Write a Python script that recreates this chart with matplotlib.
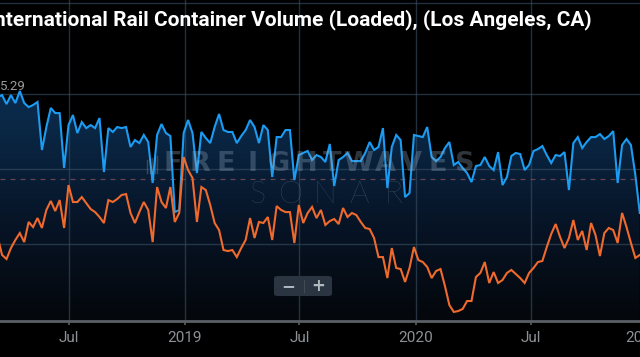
import numpy as np
import pandas as pd
import matplotlib
matplotlib.use("Agg")
import matplotlib.pyplot as plt
import matplotlib.dates as mdates
from matplotlib.colors import LinearSegmentedColormap
from matplotlib.patches import FancyBboxPatch

# ---------------- data ----------------
title = "International Rail Container Volume (Loaded), (Los Angeles, CA)"
end_date = "2020-12-20"

blue_values = [
    15.07, 14.80, 14.93, 14.33, 14.93, 14.40, 15.20, 14.40, 14.13, 14.27,
    14.47, 11.27, 12.80, 14.07, 13.73, 13.73, 10.07, 12.93, 13.60, 12.40,
    13.13, 12.73, 12.93, 12.73, 13.40, 9.80, 12.73, 12.47, 12.80, 12.73,
    12.80, 11.47, 11.93, 11.73, 12.27, 11.80, 9.07, 12.27, 13.00, 12.40,
    12.20, 7.13, 7.27, 12.40, 13.27, 12.40, 9.73, 12.47, 12.07, 11.73,
    12.80, 13.67, 12.60, 12.47, 12.47, 11.73, 12.20, 12.60, 13.27, 12.80,
    11.73, 12.93, 12.60, 9.47, 12.13, 12.13, 12.60, 12.60, 9.27, 10.93,
    11.07, 11.20, 10.60, 10.93,
    10.80, 10.47, 11.67, 8.87, 10.60, 10.80, 11.07, 10.53, 10.53, 10.53,
    11.07, 11.80, 11.27, 11.47, 12.73, 8.73, 11.47, 12.27, 11.93, 8.13,
    8.40, 12.27, 12.20, 12.13, 12.80, 10.80, 10.53, 10.80, 11.40, 11.80,
    10.27, 10.47, 10.07, 9.73, 9.13, 10.20, 10.27, 10.80, 10.20, 9.93,
    11.13, 8.93, 9.47, 10.87, 11.07, 11.00, 9.93, 10.27, 11.20, 11.33,
    11.53, 10.93, 10.40, 10.93, 10.87, 11.13, 8.60, 11.73, 12.13, 11.40,
    11.80, 12.13, 12.13, 12.33, 12.00, 12.20, 12.53, 9.07, 11.60, 12.00,
    11.60, 9.60, 7.07,
]

orange_values = [
    5.80, 5.47, 4.27, 4.00, 4.73, 5.27, 5.73, 5.13, 6.47, 6.13,
    6.73, 6.07, 7.27, 7.87, 7.20, 7.93, 6.07, 8.93, 7.80, 7.80,
    8.13, 7.73, 7.33, 7.13, 6.80, 6.40, 7.93, 7.80, 8.00, 8.27,
    8.33, 7.07, 6.40, 7.13, 7.80, 7.27, 5.13, 8.80, 7.80, 7.40,
    8.80, 6.47, 7.07, 10.80, 9.93, 9.40, 6.47, 8.80, 8.60, 7.60,
    6.40, 5.93, 4.60, 4.53, 4.60, 4.13, 4.73, 5.27, 6.73, 5.40,
    6.47, 6.40, 6.80, 5.27, 7.53, 7.27, 7.13, 7.13, 5.07, 7.60,
    6.40, 7.07, 7.47, 6.73,
    7.27, 6.27, 6.53, 6.67, 6.33, 7.40, 6.80, 7.07, 6.93, 6.47,
    6.07, 6.00, 5.40, 4.13, 4.13, 2.73, 4.73, 3.40, 3.33, 2.47,
    3.40, 4.80, 3.93, 3.80, 3.47, 2.73, 3.20, 3.33, 2.20, 0.93,
    0.47, 0.53, 0.67, 1.20, 1.20, 2.80, 3.07, 3.80, 2.40, 3.13,
    2.40, 2.60, 3.07, 3.27, 3.00, 2.73, 2.40, 3.07, 3.40, 3.80,
    3.87, 4.80, 5.67, 6.33, 5.47, 4.73, 5.40, 6.60, 5.27, 5.87,
    4.60, 6.40, 5.60, 4.20, 5.73, 6.07, 5.93, 5.07, 7.07, 6.13,
    5.07, 4.07, 4.27,
]

grid_values = [5, 10, 15, 21.07]
reference_value = 9.33
tick_dates = ["2018-07-01", "2019-01-01", "2019-07-01", "2020-01-01", "2020-07-01"]
tick_labels = ["Jul", "2019", "Jul", "2020", "Jul"]
extra_tick = ("2021-01-01", "2021")
last_label = "5.29"

# ---------------- style ----------------
W, H, DPI = 640, 357, 100
BLUE = "#1b9cf2"
ORANGE = "#ef6a2c"
GRID = "#3b4f65"
AXIS_GRAY = "#5a6066"
TICK_TXT = "#8d9196"
WM = "#9ab0c8"

fig = plt.figure(figsize=(W / DPI, H / DPI), dpi=DPI, facecolor="black")
ax = fig.add_axes([0, (H - 321) / H, 1, 321 / H])
ax.set_facecolor("black")

dates_b = pd.date_range(end=end_date, periods=len(blue_values), freq="7D")
dates_o = pd.date_range(end=end_date, periods=len(orange_values), freq="7D")

ymin, ymax = -0.133, 21.27
xmin = pd.Timestamp("2018-03-14 17:00")
xmax = pd.Timestamp("2020-12-20 08:00")

# gradient area under blue series
poly = ax.fill_between(dates_b, blue_values, ymin, facecolor="none", edgecolor="none")
cmap = LinearSegmentedColormap.from_list(
    "g", [(0, "#04070b"), (0.3, "#071426"), (0.6, "#0a2745"), (1.0, "#0e3563")])
grad = np.linspace(1, 0, 256).reshape(-1, 1)
x0n, x1n = mdates.date2num(xmin) - 20, mdates.date2num(xmax) + 20
im = ax.imshow(grad, extent=[x0n, x1n, ymin, ymax], aspect="auto", cmap=cmap,
               zorder=1, interpolation="bilinear")
im.set_clip_path(poly.get_paths()[0], transform=ax.transData)

# grid
for g in grid_values:
    ax.axhline(g, color=GRID, lw=1.0, alpha=0.6, zorder=2)
for d in tick_dates:
    ax.axvline(pd.Timestamp(d), color=GRID, lw=1.0, alpha=0.6, zorder=2)
ax.axhline(reference_value, color="#7d4d55", lw=0.9, ls=(0, (4, 4)), alpha=0.8, zorder=2)

# watermark
for i, ch in enumerate("FREIGHTWAVES"):
    fig.text((173 + i * 26.5) / W, 1 - 164 / H, ch, color=WM, alpha=0.3,
             fontsize=19.5, fontweight="bold", family="DejaVu Sans",
             ha="center", va="center")
for k in range(5):
    xk = (147 + k * 2.6) / W
    fig.add_artist(plt.Line2D([xk, xk], [1 - 173 / H, 1 - (160 - k * 1.0) / H],
                              transform=fig.transFigure, color=WM, alpha=0.3, lw=1.0))
for i, ch in enumerate("SONAR"):
    fig.text((257 + i * 34) / W, 1 - 195 / H, ch, color="#8c9aa8", alpha=0.5,
             fontsize=22, fontweight="light", family="Lato",
             ha="center", va="center")

# series
ax.plot(dates_b, blue_values, color=BLUE, lw=1.5, zorder=4, solid_joinstyle="miter")
ax.plot(dates_o, orange_values, color=ORANGE, lw=1.5, zorder=4, solid_joinstyle="miter")

ax.set_xlim(xmin, xmax)
ax.set_ylim(ymin, ymax)

# axes styling
for s in ["top", "left", "right"]:
    ax.spines[s].set_visible(False)
ax.spines["bottom"].set_color(AXIS_GRAY)
ax.spines["bottom"].set_linewidth(2.0)
ax.spines["bottom"].set_zorder(5)
ax.set_yticks([])
ax.set_xticks([pd.Timestamp(d) for d in tick_dates])
ax.set_xticklabels(tick_labels)
ax.tick_params(axis="x", colors=AXIS_GRAY, length=3, width=1.2, pad=4,
               labelcolor=TICK_TXT, labelsize=11)
for lab in ax.get_xticklabels():
    lab.set_family("Roboto")
ax.text(pd.Timestamp(extra_tick[0]) - pd.Timedelta(days=8), -(7 * DPI / 72) / 321, extra_tick[1],
        transform=ax.get_xaxis_transform(),
        ha="center", va="top", color=TICK_TXT, fontsize=11, family="Roboto", clip_on=False)

# title and label
fig.text(592 / W, 1 - 20 / H, title, ha="right", va="center", color="white",
         fontsize=15, fontweight="bold", family="Roboto")
fig.text(0 / W, 1 - 87 / H, last_label, ha="left", va="center", color="#9a9a9a",
         fontsize=9.5, family="Roboto")

# zoom control
box = FancyBboxPatch((274 / W, 1 - 296 / H), 58 / W, 20 / H,
                     boxstyle="round,pad=0,rounding_size=0.006",
                     transform=fig.transFigure, facecolor="#2a3541", edgecolor="none", zorder=10)
fig.patches.append(box)
fig.add_artist(plt.Line2D([304 / W, 304 / W], [1 - 292 / H, 1 - 280 / H],
                          transform=fig.transFigure, color="#3f4a56", lw=0.8, zorder=11))
fig.text(288 / W, 1 - 286 / H, "−", ha="center", va="center", color="#b0b8c0",
         fontsize=12, fontweight="bold", family="DejaVu Sans", zorder=12)
fig.text(318 / W, 1 - 286 / H, "+", ha="center", va="center", color="#b0b8c0",
         fontsize=12, fontweight="bold", family="DejaVu Sans", zorder=12)

fig.savefig("out.png", dpi=DPI, facecolor="black")
